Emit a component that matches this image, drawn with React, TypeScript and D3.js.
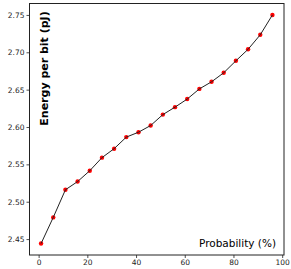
import * as d3 from "d3";
import { useEffect, useRef } from "react";

// probability (%) and energy per bit (pJ)
const probability = [1, 6, 11, 16, 21, 26, 31, 36, 41, 46, 51, 56, 61, 66, 71, 76, 81, 86, 91, 96];
const energy = [
  2.444, 2.479, 2.516, 2.527, 2.5415, 2.559, 2.571, 2.5865, 2.593, 2.602,
  2.6166, 2.6266, 2.6374, 2.651, 2.6605, 2.6726, 2.6886, 2.704, 2.7234, 2.75,
];
const xTicks = [0, 20, 40, 60, 80, 100];
const yTicks = [2.45, 2.5, 2.55, 2.6, 2.65, 2.7, 2.75];

export default function App() {
  const svgRef = useRef<SVGSVGElement>(null);

  useEffect(() => {
    if (!svgRef.current) return;
    const svg = d3.select(svgRef.current);
    svg.selectAll("*").remove();

    const width = 291;
    const height = 269;
    const margin = { top: 3.5, right: 7, bottom: 14, left: 29.5 };

    const x = d3.scaleLinear().domain([-3.75, 100.75]).range([margin.left, width - margin.right]);
    const y = d3.scaleLinear().domain([2.4287, 2.7653]).range([height - margin.bottom, margin.top]);

    const data = probability.map((p, i) => ({ p, e: energy[i] }));

    // x 축
    const xAxis = svg
      .append("g")
      .attr("transform", `translate(0,${height - margin.bottom})`)
      .call(d3.axisBottom(x).tickValues(xTicks).tickSize(3).tickPadding(2).tickFormat(d3.format("d")));
    // y 축
    const yAxis = svg
      .append("g")
      .attr("transform", `translate(${margin.left},0)`)
      .call(d3.axisLeft(y).tickValues(yTicks).tickSize(3).tickPadding(2).tickFormat(d3.format(".2f")));

    [xAxis, yAxis].forEach((g) => {
      g.select(".domain").remove();
      g.selectAll("line").attr("stroke", "#222").attr("stroke-width", 0.8);
      g.selectAll("text")
        .attr("fill", "#222")
        .style("font-family", "DejaVu Sans")
        .style("font-size", "7.5px");
    });

    // 테두리
    svg
      .append("rect")
      .attr("x", margin.left)
      .attr("y", margin.top)
      .attr("width", width - margin.left - margin.right)
      .attr("height", height - margin.top - margin.bottom)
      .attr("fill", "none")
      .attr("stroke", "#222")
      .attr("stroke-width", 1);

    // 마커
    svg
      .selectAll(".dot")
      .data(data)
      .enter()
      .append("circle")
      .attr("class", "dot")
      .attr("cx", (d) => x(d.p))
      .attr("cy", (d) => y(d.e))
      .attr("r", 2.2)
      .attr("fill", "#ff0000");

    // 선
    const line = d3
      .line<{ p: number; e: number }>()
      .x((d) => x(d.p))
      .y((d) => y(d.e));
    svg
      .append("path")
      .datum(data)
      .attr("d", line)
      .attr("fill", "none")
      .attr("stroke", "#222")
      .attr("stroke-width", 1);

    // 라벨
    svg
      .append("text")
      .attr("transform", `translate(48,${margin.top + 65}) rotate(-90)`)
      .attr("text-anchor", "middle")
      .style("font-family", "DejaVu Sans")
      .style("font-weight", "bold")
      .style("font-size", "11px")
      .text("Energy per bit (pJ)");

    svg
      .append("text")
      .attr("x", 276)
      .attr("y", 247)
      .attr("text-anchor", "end")
      .style("font-family", "DejaVu Sans")
      .style("font-size", "10.5px")
      .text("Probability (%)");
  }, []);

  return (
    <svg
      ref={svgRef}
      width={291}
      height={269}
      style={{ position: "absolute", left: 0, top: 0, background: "#fff" }}
    ></svg>
  );
}
